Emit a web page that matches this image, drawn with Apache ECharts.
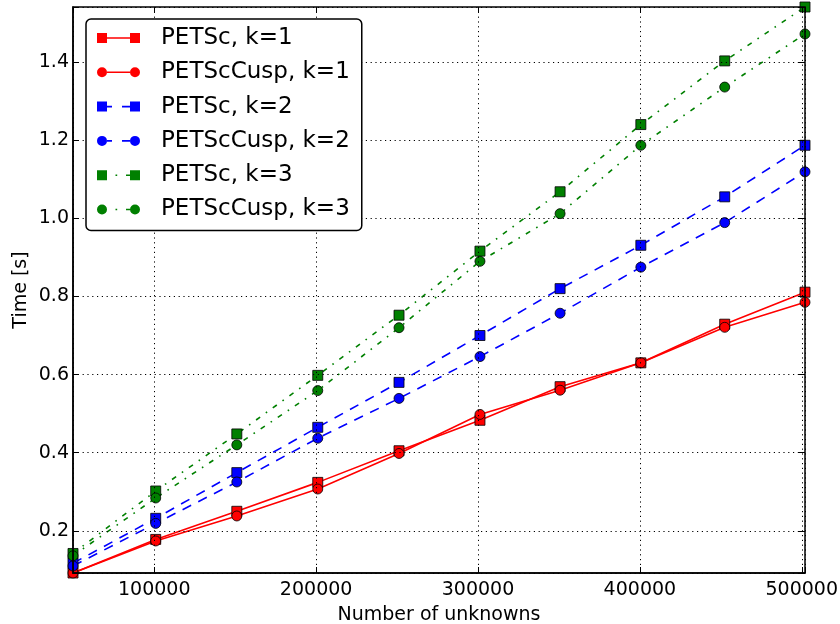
<!DOCTYPE html>
<html>
<head>
<meta charset="utf-8">
<script src="https://cdn.jsdelivr.net/npm/echarts@6/dist/echarts.min.js"></script>
<style>
html,body{margin:0;padding:0;background:#fff;}
#chart{width:840px;height:624px;}
</style>
</head>
<body>
<div id="chart"></div>
<script>
// ---- data ----
const unknowns = [49800, 100900, 151000, 201000, 251200, 301200, 350700, 400600, 452400, 502000];
const petscK1 = [0.092, 0.178, 0.250, 0.324, 0.405, 0.483, 0.569, 0.630, 0.729, 0.811];
const cuspK1  = [0.092, 0.174, 0.238, 0.307, 0.398, 0.498, 0.560, 0.630, 0.721, 0.785];
const petscK2 = [0.117, 0.232, 0.349, 0.465, 0.580, 0.700, 0.820, 0.931, 1.055, 1.187];
const cuspK2  = [0.110, 0.219, 0.325, 0.437, 0.539, 0.646, 0.757, 0.875, 0.989, 1.119];
const petscK3 = [0.142, 0.302, 0.448, 0.598, 0.752, 0.916, 1.068, 1.240, 1.403, 1.541];
const cuspK3  = [0.136, 0.284, 0.420, 0.559, 0.720, 0.890, 1.012, 1.187, 1.336, 1.472];
const seriesNames = ['PETSc, k=1', 'PETScCusp, k=1', 'PETSc, k=2', 'PETScCusp, k=2', 'PETSc, k=3', 'PETScCusp, k=3'];
const xTickStep = 100000;
const yTickStep = 0.2;
const xLabel = 'Number of unknowns';
const yLabel = 'Time [s]';

// ---- build ----
const FONT = 'DejaVu Sans';
const pairs = ys => unknowns.map((x, i) => [x, ys[i]]);
const allY = [].concat(petscK1, cuspK1, petscK2, cuspK2, petscK3, cuspK3);
const yMin = Math.min.apply(null, allY);
const yMax = Math.max.apply(null, allY);
const xMin = unknowns[0];
const xMax = unknowns[unknowns.length - 1];

const colors = ['#ff0000', '#ff0000', '#0000ff', '#0000ff', '#008000', '#008000'];
const symbols = ['rect', 'circle', 'rect', 'circle', 'rect', 'circle'];
const dashes = ['solid', 'solid', [9.6, 8], [9.6, 8], [5, 7, 1.6, 7], [5, 7, 1.6, 7]];
const dataSets = [petscK1, cuspK1, petscK2, cuspK2, petscK3, cuspK3];

const SQ = 'M0,0H10V10H0Z M33,0H43V10H33Z ';
const CI = 'M0,5A5,5 0 1 1 10,5A5,5 0 1 1 0,5Z M33,5A5,5 0 1 1 43,5A5,5 0 1 1 33,5Z ';
const L1 = 'M10,4.2H33V5.8H10Z';
const L2 = 'M10,4.2H15V5.8H10Z M25,4.2H33V5.8H25Z';
const L3 = 'M18.5,4.2H20.2V5.8H18.5Z M29,4.2H33V5.8H29Z';
const icons = ['path://' + SQ + L1, 'path://' + CI + L1, 'path://' + SQ + L2, 'path://' + CI + L2, 'path://' + SQ + L3, 'path://' + CI + L3];

const series = dataSets.map((ys, i) => ({
  name: seriesNames[i],
  type: 'line',
  data: pairs(ys),
  symbol: symbols[i],
  symbolSize: 10,
  showSymbol: true,
  clip: true,
  z: 2,
  lineStyle: { color: colors[i], width: 1.6, type: dashes[i] },
  itemStyle: { color: colors[i], borderColor: '#000', borderWidth: 0.8 },
  emphasis: { disabled: true },
  animation: false
}));

const xFmt = v => (Math.abs(v / xTickStep - Math.round(v / xTickStep)) < 1e-9 ? String(Math.round(v)) : '');
const yFmt = v => (Math.abs(v / yTickStep - Math.round(v / yTickStep)) < 1e-6 ? v.toFixed(1) : '');

const gridLine = { show: true, lineStyle: { color: '#000', width: 1, type: [1.2, 3.6] } };
const tick = { show: true, inside: true, length: 6, lineStyle: { color: '#000', width: 1 } };

const chart = echarts.init(document.getElementById('chart'), null, { renderer: 'canvas' });
chart.setOption({
  animation: false,
  backgroundColor: '#fff',
  textStyle: { fontFamily: FONT },
  grid: { left: 73, top: 7, width: 732, height: 566, containLabel: false, outerBoundsMode: 'none', show: true, borderColor: '#000', borderWidth: 1.5, backgroundColor: 'transparent', z: 4 },
  legend: {
    orient: 'vertical',
    left: 86, top: 19,
    padding: [7, 12, 9, 11],
    itemWidth: 43, itemHeight: 10, itemGap: 10.3,
    backgroundColor: '#fff', borderColor: '#000', borderWidth: 1.5, borderRadius: 5,
    selectedMode: false,
    itemStyle: { borderWidth: 0 },
    textStyle: { fontFamily: FONT, fontSize: 23, color: '#000', lineHeight: 24, padding: [0, 0, 0, 16] },
    data: seriesNames.map((n, i) => ({ name: n, icon: icons[i] })),
    z: 10
  },
  xAxis: [{
    type: 'value', min: xMin, max: xMax, minInterval: xTickStep, maxInterval: xTickStep,
    position: 'bottom', z: 5,
    name: xLabel, nameLocation: 'middle', nameGap: 33, nameMoveOverlap: false,
    nameTextStyle: { fontFamily: FONT, fontSize: 19, color: '#000' },
    axisLine: { show: true, onZero: false, lineStyle: { color: '#000', width: 1.5 } },
    axisTick: tick,
    axisLabel: { show: true, formatter: xFmt, fontFamily: FONT, fontSize: 19, color: '#000', margin: 8, showMinLabel: true, showMaxLabel: true },
    splitLine: gridLine
  }, {
    type: 'value', min: xMin, max: xMax, minInterval: xTickStep, maxInterval: xTickStep,
    position: 'top', z: 5,
    axisLine: { show: false },
    axisTick: tick,
    axisLabel: { show: false },
    splitLine: { show: false }
  }],
  yAxis: [{
    type: 'value', min: yMin, max: yMax, minInterval: yTickStep, maxInterval: yTickStep,
    position: 'left', z: 5,
    name: yLabel, nameLocation: 'middle', nameGap: 42, nameMoveOverlap: false,
    nameTextStyle: { fontFamily: FONT, fontSize: 19, color: '#000' },
    axisLine: { show: true, onZero: false, lineStyle: { color: '#000', width: 1.5 } },
    axisTick: tick,
    axisLabel: { show: true, formatter: yFmt, fontFamily: FONT, fontSize: 19, color: '#000', margin: 4 },
    splitLine: gridLine
  }, {
    type: 'value', min: yMin, max: yMax, minInterval: yTickStep, maxInterval: yTickStep,
    position: 'right', z: 5,
    axisLine: { show: false },
    axisTick: tick,
    axisLabel: { show: false },
    splitLine: { show: false }
  }],
  series: series
});
</script>
</body>
</html>
